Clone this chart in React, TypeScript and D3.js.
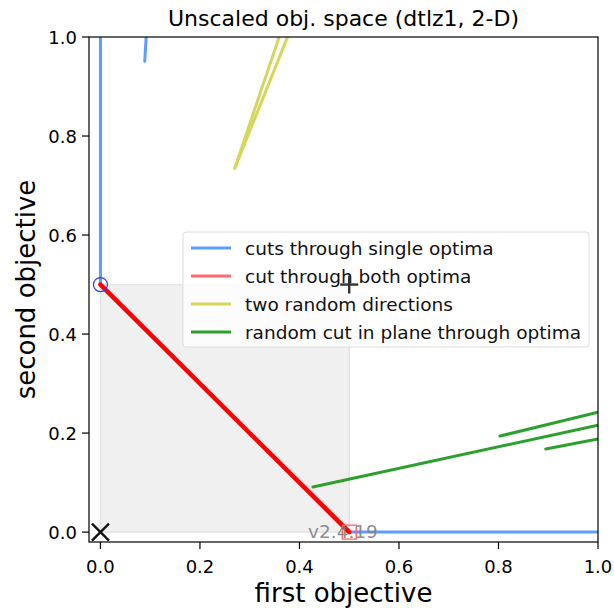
import React from "react";
import * as d3 from "d3";

const TITLE = "Unscaled obj. space (dtlz1, 2-D)";
const X_LABEL = "first objective";
const Y_LABEL = "second objective";
const xTicks = [0, 0.2, 0.4, 0.6, 0.8, 1.0];
const yTicks = [0, 0.2, 0.4, 0.6, 0.8, 1.0];

// segments: [x1, y1, x2, y2]
const blueCuts = [
  [0, 0.5, 0, 1.05],
  [0.5, 0, 1.05, 0],
  [0.089, 0.951, 0.095, 1.05],
];
const redCut = [[0, 0.5, 0.5, 0]];
const yellowCuts = [
  [0.27, 0.735, 0.376, 1.05],
  [0.27, 0.735, 0.396, 1.05],
];
const greenCuts = [
  [0.427, 0.091, 1.0, 0.216],
  [0.803, 0.194, 1.0, 0.242],
  [0.895, 0.168, 1.0, 0.188],
];
const legendLabels = [
  "cuts through single optima",
  "cut through both optima",
  "two random directions",
  "random cut in plane through optima",
];
const legendColors = ["#5c9dff", "#ff6a6a", "#d6d65c", "#2ca02c"];
const optimumBox = [0, 0, 0.5, 0.5];
const idealPoint = [0, 0];
const nadirPoint = [0.5, 0.5];
const optimumA = [0, 0.5];
const optimumB = [0.5, 0];
const VERSION = "v2.4.19";

const FONT = "DejaVu Sans, sans-serif";

export default function App() {
  const L = 89, R = 598, T = 37, B = 542;
  const x = d3.scaleLinear().domain([-0.023, 1.0]).range([L, R]);
  const y = d3.scaleLinear().domain([-0.02, 1.0]).range([B, T]);
  const line = d3.line<number[]>().x((d) => x(d[0])).y((d) => y(d[1]));
  const seg = (s: number[]) => line([[s[0], s[1]], [s[2], s[3]]]) || "";

  const legX = 183, legY = 232, legW = 406, legH = 115;
  const rowH = 28;

  return (
    <svg width={614} height={610} style={{ position: "absolute", left: 0, top: 0, fontFamily: FONT }}>
      <defs>
        <clipPath id="plotclip">
          <rect x={L} y={T} width={R - L} height={B - T} />
        </clipPath>
      </defs>
      <rect x={0} y={0} width={614} height={610} fill="white" />
      <g clipPath="url(#plotclip)">
        <rect
          x={x(optimumBox[0])}
          y={y(optimumBox[3])}
          width={x(optimumBox[2]) - x(optimumBox[0])}
          height={y(optimumBox[1]) - y(optimumBox[3])}
          fill="#f0f0f0"
          stroke="#e4e4e4"
          strokeWidth={1.5}
        />
        {blueCuts.map((s, i) => (
          <path key={"b" + i} d={seg(s)} stroke="#5c9dff" strokeWidth={3} fill="none" strokeLinecap="round" />
        ))}
        {yellowCuts.map((s, i) => (
          <path key={"y" + i} d={seg(s)} stroke="#d6d65c" strokeWidth={3} fill="none" strokeLinecap="round" />
        ))}
        {greenCuts.map((s, i) => (
          <path key={"g" + i} d={seg(s)} stroke="#2ca02c" strokeWidth={3} fill="none" strokeLinecap="round" />
        ))}
        {redCut.map((s, i) => (
          <path key={"r" + i} d={seg(s)} stroke="#ff0000" strokeWidth={4.5} fill="none" strokeLinecap="round" />
        ))}
        <circle cx={x(optimumA[0])} cy={y(optimumA[1])} r={7} fill="none" stroke="#3333ff" strokeWidth={1.2} />
        <rect x={x(optimumB[0]) - 7} y={y(optimumB[1]) - 7} width={14} height={14} fill="none" stroke="#ff5555" strokeWidth={1.2} />
        <g stroke="#111" strokeWidth={2.4}>
          <line x1={x(idealPoint[0]) - 8.5} y1={y(idealPoint[1]) - 8.5} x2={x(idealPoint[0]) + 8.5} y2={y(idealPoint[1]) + 8.5} />
          <line x1={x(idealPoint[0]) - 8.5} y1={y(idealPoint[1]) + 8.5} x2={x(idealPoint[0]) + 8.5} y2={y(idealPoint[1]) - 8.5} />
        </g>
        <text x={343} y={y(0) + 6} textAnchor="middle" fontSize={18.5} fill="#808080" fillOpacity={0.9}>
          {VERSION}
        </text>
      </g>

      {/* legend */}
      <rect x={legX} y={legY} width={legW} height={legH} rx={3} fill="white" fillOpacity={0.8} stroke="#dcdcdc" strokeWidth={1} />
      {legendLabels.map((lab, i) => (
        <g key={"l" + i}>
          <line x1={legX + 8} x2={legX + 48} y1={legY + 16 + i * rowH} y2={legY + 16 + i * rowH} stroke={legendColors[i]} strokeWidth={3} />
          <text x={legX + 62} y={legY + 16 + i * rowH + 6.5} fontSize={18.5} fill="#111">
            {lab}
          </text>
        </g>
      ))}

      {/* nadir plus on top */}
      <g stroke="#333" strokeWidth={2.4}>
        <line x1={x(nadirPoint[0]) - 9} y1={y(nadirPoint[1])} x2={x(nadirPoint[0]) + 9} y2={y(nadirPoint[1])} />
        <line x1={x(nadirPoint[0])} y1={y(nadirPoint[1]) - 9} x2={x(nadirPoint[0])} y2={y(nadirPoint[1]) + 9} />
      </g>

      {/* frame */}
      <rect x={L} y={T} width={R - L} height={B - T} fill="none" stroke="#000" strokeWidth={1.2} />

      {/* x ticks */}
      {xTicks.map((t) => (
        <g key={"xt" + t}>
          <line x1={x(t)} x2={x(t)} y1={B} y2={B + 7} stroke="#000" strokeWidth={1.2} />
          <text x={x(t)} y={B + 31} textAnchor="middle" fontSize={18} fill="#000">
            {d3.format(".1f")(t)}
          </text>
        </g>
      ))}
      {yTicks.map((t) => (
        <g key={"yt" + t}>
          <line x1={L - 7} x2={L} y1={y(t)} y2={y(t)} stroke="#000" strokeWidth={1.2} />
          <text x={L - 12} y={y(t) + 6.5} textAnchor="end" fontSize={18} fill="#000">
            {d3.format(".1f")(t)}
          </text>
        </g>
      ))}

      <text x={(L + R) / 2} y={26} textAnchor="middle" fontSize={22} fill="#000">
        {TITLE}
      </text>
      <text x={(L + R) / 2} y={602} textAnchor="middle" fontSize={26} fill="#000">
        {X_LABEL}
      </text>
      <text transform={`translate(35, ${(T + B) / 2}) rotate(-90)`} textAnchor="middle" fontSize={26} fill="#000">
        {Y_LABEL}
      </text>
    </svg>
  );
}
